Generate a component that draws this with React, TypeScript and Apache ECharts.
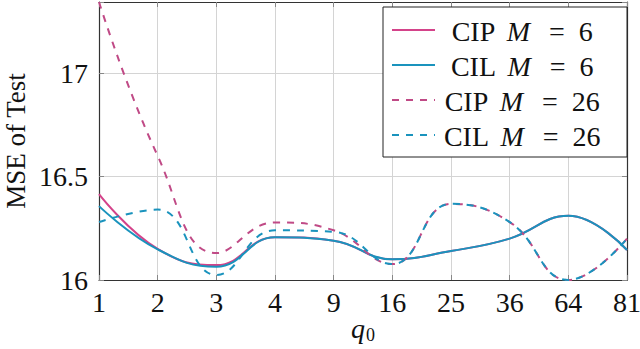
import React, { useEffect, useRef } from 'react';
import * as echarts from 'echarts';

// ---- data ----
const categories = ['1', '2', '3', '4', '9', '16', '25', '36', '64', '81'];
const cipM6 = [16.415, 16.15, 16.072, 16.207, 16.19, 16.1, 16.14, 16.2, 16.31, 16.145];
const cilM6 = [16.357, 16.148, 16.064, 16.206, 16.19, 16.1, 16.14, 16.2, 16.31, 16.145];
const cipM26 = [17.343, 16.6, 16.13, 16.278, 16.24, 16.077, 16.368, 16.28, 16.0, 16.2];
const cilM26 = [16.28, 16.34, 16.024, 16.24, 16.233, 16.077, 16.368, 16.28, 16.0, 16.2];
const yTicks = [16, 16.5, 17];
const yMin = 16;
const yMax = 17.343;
const legendLabels = [
  { pre: 'CIP', num: '6' },
  { pre: 'CIL', num: '6' },
  { pre: 'CIP', num: '26' },
  { pre: 'CIL', num: '26' },
];

const PINK = '#d4438a';
const PINK_D = '#c04a86';
const BLUE = '#1a93bd';
const FONT = 'Liberation Serif';
const AXIS = '#333333';
const GRIDC = '#d4d4d4';

export default function App() {
  const ref = useRef<HTMLDivElement>(null);
  useEffect(() => {
    document.body.style.margin = '0';
    const chart = echarts.init(ref.current!, null, { renderer: 'svg' });
    const colors = [PINK, BLUE, PINK_D, BLUE];
    const dashed = [false, false, true, true];
    const names = legendLabels.map((l) => `${l.pre} M = ${l.num}`);
    const datasets = [cipM6, cilM6, cipM26, cilM26];

    const legendTop = 7;
    const rowY = [30, 65, 100, 135];
    const graphic: any[] = [
      {
        type: 'rect',
        shape: { x: 383, y: legendTop, width: 244, height: 150 },
        style: { fill: '#ffffff', stroke: '#222222', lineWidth: 1 },
        z: 100,
      },
    ];
    legendLabels.forEach((l, i) => {
      graphic.push({
        type: 'line',
        shape: { x1: 392, y1: rowY[i], x2: 435, y2: rowY[i] },
        style: {
          stroke: colors[i],
          lineWidth: 2,
          lineDash: dashed[i] ? [7, 7] : null,
        },
        z: 101,
      });
      graphic.push({
        type: 'text',
        x: 522,
        y: rowY[i] + 1,
        style: {
          text: `${l.pre} {m|M} {e|=} ${l.num}`,
          align: 'center',
          verticalAlign: 'middle',
          fontFamily: FONT,
          fontSize: 28,
          fill: '#111111',
          rich: {
            m: { fontStyle: 'italic', fontFamily: FONT, fontSize: 28, padding: [0, 5, 0, 5] },
            e: { fontFamily: FONT, fontSize: 28, padding: [0, 7, 0, 7] },
          },
        },
        z: 101,
      });
    });

    const option: any = {
      animation: false,
      backgroundColor: '#ffffff',
      textStyle: { fontFamily: FONT },
      grid: {
        left: 99,
        right: 13,
        top: 2,
        bottom: 69,
        containLabel: false,
        outerBoundsMode: 'none',
      },
      xAxis: [
        {
          type: 'category',
          data: categories,
          boundaryGap: false,
          axisLine: { show: true, lineStyle: { color: AXIS, width: 1.2 } },
          axisTick: { show: true, inside: true, length: 5, lineStyle: { color: '#888888' } },
          axisLabel: { fontFamily: FONT, fontSize: 28, color: '#111111', margin: 8 },
          splitLine: { show: true, lineStyle: { color: GRIDC, width: 1 } },
          name: '{q|q}{s|0}',
          nameLocation: 'middle',
          nameGap: 34,
          nameMoveOverlap: false,
          nameTextStyle: {
            rich: {
              q: { fontFamily: FONT, fontStyle: 'italic', fontSize: 28, lineHeight: 28, color: '#111111' },
              s: { fontFamily: FONT, fontSize: 18, lineHeight: 18, color: '#111111', padding: [13, 0, 0, 1] },
            },
          },
        },
        {
          type: 'category',
          data: categories,
          boundaryGap: false,
          position: 'top',
          axisLine: { show: true, lineStyle: { color: AXIS, width: 1.2 } },
          axisTick: { show: true, inside: true, length: 5, lineStyle: { color: '#888888' } },
          axisLabel: { show: false },
          splitLine: { show: false },
        },
      ],
      yAxis: [
        {
          type: 'value',
          min: yMin,
          max: yMax,
          interval: 0.5,
          axisLine: { show: true, lineStyle: { color: AXIS, width: 1.2 } },
          axisTick: { show: true, inside: true, length: 5, lineStyle: { color: '#888888' } },
          axisLabel: {
            fontFamily: FONT,
            fontSize: 28,
            color: '#111111',
            margin: 11,
            formatter: (v: number) => (yTicks.some((t) => Math.abs(t - v) < 1e-9) ? String(v) : ''),
          },
          splitLine: { show: true, lineStyle: { color: GRIDC, width: 1 } },
          name: 'MSE of Test',
          nameLocation: 'middle',
          nameGap: 72,
          nameMoveOverlap: false,
          nameTextStyle: { fontFamily: FONT, fontSize: 27, lineHeight: 22, color: '#111111' },
        },
        {
          type: 'value',
          min: yMin,
          max: yMax,
          interval: 0.5,
          position: 'right',
          axisLine: { show: true, lineStyle: { color: AXIS, width: 1.2 } },
          axisTick: { show: true, inside: true, length: 5, lineStyle: { color: '#888888' } },
          axisLabel: { show: false },
          splitLine: { show: false },
        },
      ],
      series: datasets.map((d, i) => ({
        name: names[i],
        type: 'line',
        data: d,
        xAxisIndex: 0,
        yAxisIndex: 0,
        smooth: 0.45,
        showSymbol: false,
        symbol: 'none',
        clip: true,
        lineStyle: {
          color: colors[i],
          width: 2,
          type: dashed[i] ? [7, 7] : 'solid',
        },
        itemStyle: { color: colors[i] },
        z: 2 + i,
      })),
      graphic,
    };
    chart.setOption(option);
    return () => chart.dispose();
  }, []);
  return (
    <div
      ref={ref}
      style={{ position: 'fixed', left: 0, top: 0, width: 640, height: 349 }}
    />
  );
}
